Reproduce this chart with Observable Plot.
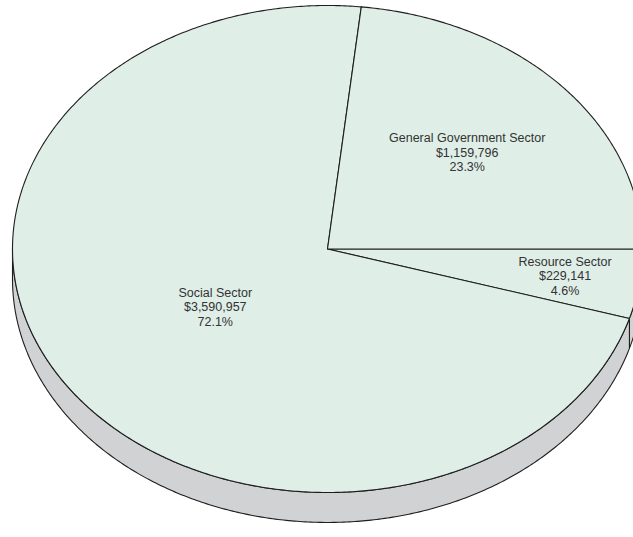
<!DOCTYPE html>
<html><head><meta charset="utf-8">
<script src="https://cdn.jsdelivr.net/npm/d3@7"></script>
<script src="https://cdn.jsdelivr.net/npm/@observablehq/plot@0.6"></script>
<style>body{margin:0;background:#fff}</style>
</head><body><div id="chart"></div>
<script>
// Data (clockwise from 3 o'clock)
const sectors = ["Resource Sector", "Social Sector", "General Government Sector"];
const amounts = [229141, 3590957, 1159796];

// Layout (styling / geometry only)
const labelRadius = [0.762, 0.428, 0.596];
const depth = 0.123;            // side thickness in y-units
const topFill = "#dfeee7";
const sideFill = "#d1d2d4";
const edge = "#1e1e1e";

const total = d3.sum(amounts);
const arcs = d3.pie().sort(null).startAngle(0).endAngle(2 * Math.PI)(amounts);

function arcPts(a0, a1, dy) {
  const n = Math.max(2, Math.ceil(Math.abs(a1 - a0) / (Math.PI / 360)));
  const pts = [];
  for (let i = 0; i <= n; i++) {
    const t = a0 + (a1 - a0) * i / n;
    pts.push({x: Math.cos(t), y: Math.sin(t) + dy});
  }
  return pts;
}

const topPts = [], sidePts = [], labels = [];
arcs.forEach((a, i) => {
  const key = sectors[i];
  topPts.push({x: 0, y: 0, key});
  arcPts(a.startAngle, a.endAngle, 0).forEach(p => topPts.push({...p, key}));
  const s = Math.max(a.startAngle, 0), e = Math.min(a.endAngle, Math.PI);
  if (e > s) {
    arcPts(s, e, 0).forEach(p => sidePts.push({...p, key}));
    arcPts(e, s, depth).forEach(p => sidePts.push({...p, key}));
  }
  const mid = (a.startAngle + a.endAngle) / 2;
  labels.push({
    x: labelRadius[i] * Math.cos(mid),
    y: labelRadius[i] * Math.sin(mid),
    text: `${sectors[i]}\n$${d3.format(",")(amounts[i])}\n${d3.format(".1%")(amounts[i] / total)}`
  });
});

const chart = Plot.plot({
  width: 633,
  height: 537,
  margin: 0,
  style: {background: "#fff", fontFamily: "'Liberation Sans', Arial, sans-serif"},
  x: {domain: [-1, 1], range: [12, 642], axis: null},
  y: {domain: [-1, 1], range: [5, 492], axis: null},
  marks: [
    Plot.line(sidePts, {x: "x", y: "y", z: "key", curve: "linear-closed", fill: sideFill, stroke: edge, strokeWidth: 1.1}),
    Plot.line(topPts, {x: "x", y: "y", z: "key", curve: "linear-closed", fill: topFill, stroke: edge, strokeWidth: 1.1}),
    Plot.text(labels, {x: "x", y: "y", text: "text", fontSize: 12.5, lineHeight: 1.14, fill: "#333"})
  ]
});
document.getElementById("chart").appendChild(chart);
</script>
</body></html>
